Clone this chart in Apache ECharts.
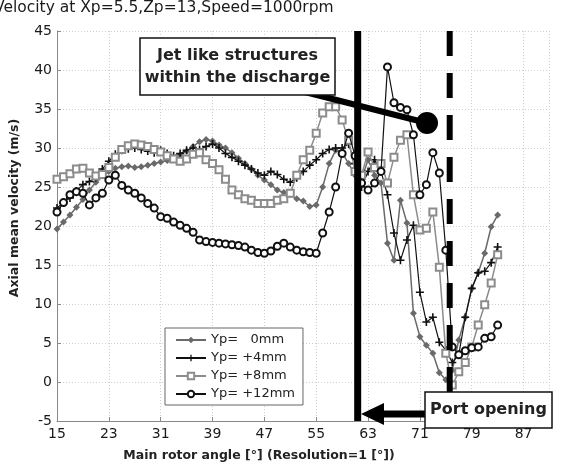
<!DOCTYPE html>
<html><head><meta charset="utf-8">
<script src="https://cdn.jsdelivr.net/npm/echarts/dist/echarts.min.js"></script>
<style>html,body{margin:0;padding:0;background:#fff}#c{width:563px;height:464px}</style>
</head><body><div id="c"></div>
<script>
const titleText = 'Velocity at Xp=5.5,Zp=13,Speed=1000rpm';
const xName = 'Main rotor angle [°] (Resolution=1 [°])';
const yName = 'Axial mean velocity (m/s)';
const seriesNames = ['Yp=   0mm', 'Yp= +4mm', 'Yp= +8mm', 'Yp= +12mm'];
const angles = [15,16,17,18,19,20,21,22,23,24,25,26,27,28,29,30,31,32,33,34,35,36,37,38,39,40,41,42,43,44,45,46,47,48,49,50,51,52,53,54,55,56,57,58,59,60,61,62,63,64,65,66,67,68,69,70,71,72,73,74,75,76,77,78,79,80,81,82,83];
const yp0 = [19.6,20.5,21.4,22.4,23.4,24.6,25.6,26.4,27.0,27.4,27.6,27.7,27.5,27.6,27.8,28.0,28.2,28.4,28.7,29.1,29.6,30.2,30.8,31.1,30.9,30.4,30.0,29.4,28.7,28.0,27.3,26.5,25.9,25.3,24.6,24.3,24.0,23.5,23.2,22.5,22.7,25.0,28.0,29.7,29.4,28.0,26.5,26.0,28.5,26.5,25.5,17.8,15.6,23.3,20.4,8.8,5.8,4.7,3.7,1.2,0.3,1.5,5.4,8.3,12.0,14.0,16.5,19.9,21.4];
const yp4 = [22.3,23.0,23.6,24.5,25.3,25.7,26.2,27.3,28.3,29.2,29.7,29.9,30.0,29.8,29.6,29.4,29.7,29.3,29.0,29.3,29.7,30.0,29.8,30.2,30.5,30.0,29.3,28.8,28.3,27.8,27.3,26.8,26.5,27.0,26.6,26.0,25.6,26.2,27.0,27.8,28.5,29.3,29.8,30.0,30.0,30.5,28.0,25.0,27.0,28.5,27.0,24.0,19.1,15.6,18.2,20.1,11.5,7.7,8.3,5.1,4.1,2.5,3.5,8.3,12.0,14.0,14.2,15.3,17.3];
const yp8 = [26.0,26.3,26.7,27.3,27.4,26.8,26.4,26.6,27.5,28.8,29.8,30.3,30.5,30.4,30.2,29.8,29.5,29.0,28.6,28.3,28.6,29.2,29.4,28.5,28.0,27.2,26.0,24.6,24.0,23.5,23.3,22.9,22.9,22.9,23.3,23.5,24.2,26.5,28.5,29.7,31.9,34.5,35.3,35.3,33.6,31.0,27.0,26.5,29.5,27.5,28.0,25.5,28.8,31.0,31.7,24.0,19.5,19.7,21.8,14.7,3.7,-0.4,1.3,2.5,4.5,7.3,9.9,12.7,16.3];
const yp12 = [21.8,23.0,24.0,24.4,24.2,22.7,23.6,24.2,25.9,26.5,25.2,24.6,24.2,23.6,22.9,22.3,21.2,21.0,20.5,20.1,19.7,19.2,18.2,18.0,17.9,17.8,17.7,17.6,17.5,17.3,16.9,16.6,16.5,16.8,17.4,17.8,17.3,16.9,16.7,16.6,16.5,19.1,21.8,25.0,29.3,31.9,29.0,25.5,24.6,25.5,27.0,40.4,35.8,35.2,34.9,31.7,24.0,25.3,29.4,26.8,16.9,4.5,3.5,4.0,4.4,4.5,5.6,5.8,7.3];
const portLineX = 61.4;
const dashLineX = 75.6;
const xTicks = {min: 15, max: 91, interval: 8};
const yTicks = {min: -5, max: 45, interval: 5};

const pairs = arr => angles.map((a, i) => [a, arr[i]]);
const plus = 'path://M4,0L6,0L6,4L10,4L10,6L6,6L6,10L4,10L4,6L0,6L0,4L4,4Z';
const FONT = 'DejaVu Sans';

const chart = echarts.init(document.getElementById('c'), null, {renderer: 'canvas'});
const axisCommon = {
  axisLine: {show: true, onZero: false, lineStyle: {color: '#888', width: 1}},
  axisTick: {show: true, inside: true, length: 4, lineStyle: {color: '#888'}},
  splitLine: {show: true, lineStyle: {color: '#cfcfcf', type: [1, 2], width: 1}}
};
chart.setOption({
  animation: false,
  backgroundColor: '#fff',
  grid: {left: 57, right: 13.5, top: 31, bottom: 43, containLabel: false},
  xAxis: Object.assign({type: 'value', min: xTicks.min, max: xTicks.max, interval: xTicks.interval}, axisCommon,
    {axisLabel: {fontFamily: FONT, fontSize: 14, color: '#1a1a1a', margin: 6, showMaxLabel: false}}),
  yAxis: Object.assign({type: 'value', min: yTicks.min, max: yTicks.max, interval: yTicks.interval}, axisCommon,
    {axisLabel: {fontFamily: FONT, fontSize: 14, color: '#1a1a1a', margin: 5}}),
  legend: {
    data: seriesNames, orient: 'vertical', left: 165, top: 328,
    padding: [5, 8, 4, 10], itemGap: 4, itemWidth: 30, itemHeight: 8,
    borderColor: '#666', borderWidth: 1, backgroundColor: '#fff',
    textStyle: {fontFamily: FONT, fontSize: 13, color: '#222', lineHeight: 14}
  },
  series: [
    {name: seriesNames[0], type: 'line', data: pairs(yp0), showAllSymbol: true, symbol: 'diamond', symbolSize: 7,
      itemStyle: {color: '#6a6a6a'}, lineStyle: {color: '#6a6a6a', width: 1.5}, z: 2},
    {name: seriesNames[1], type: 'line', data: pairs(yp4), showAllSymbol: true, symbol: plus, symbolSize: 8,
      itemStyle: {color: '#111'}, lineStyle: {color: '#111', width: 1.2}, z: 3},
    {name: seriesNames[2], type: 'line', data: pairs(yp8), showAllSymbol: true, symbol: 'emptyRect', symbolSize: 7,
      itemStyle: {color: '#8c8c8c', borderWidth: 1.5}, lineStyle: {color: '#8c8c8c', width: 1.5}, z: 4},
    {name: seriesNames[3], type: 'line', data: pairs(yp12), showAllSymbol: true, symbol: 'emptyCircle', symbolSize: 7,
      itemStyle: {color: '#111', borderWidth: 1.5}, lineStyle: {color: '#111', width: 1.2}, z: 5},
    {name: 'port', type: 'line', data: [[portLineX, yTicks.max], [portLineX, yTicks.min]], symbol: 'none',
      lineStyle: {color: '#000', width: 7}, z: 8, silent: true},
    {name: 'dash', type: 'line', data: [[dashLineX, yTicks.max], [dashLineX, yTicks.min]], symbol: 'none',
      lineStyle: {color: '#000', width: 6, type: [25, 17]}, z: 8, silent: true}
  ],
  graphic: [
    {type: 'text', left: -6, top: 0, z: 100, style: {text: titleText, font: '15.5px "DejaVu Sans"', fill: '#1a1a1a'}},
    {type: 'text', x: 15, y: 208, rotation: Math.PI / 2, z: 100,
      style: {text: yName, font: 'bold 12.5px "DejaVu Sans"', fill: '#222', align: 'center', verticalAlign: 'middle'}},
    {type: 'text', x: 259, y: 456, z: 100,
      style: {text: xName, font: 'bold 12.5px "DejaVu Sans"', fill: '#222', align: 'center', verticalAlign: 'middle'}},
    {type: 'line', z: 100, shape: {x1: 305, y1: 92, x2: 427, y2: 123}, style: {stroke: '#000', lineWidth: 6}},
    {type: 'circle', z: 101, shape: {cx: 427, cy: 123, r: 11}, style: {fill: '#000'}},
    {type: 'rect', z: 102, shape: {x: 140, y: 38, width: 195, height: 57}, style: {fill: '#fff', stroke: '#111', lineWidth: 1.5}},
    {type: 'text', z: 103, x: 237.5, y: 67, style: {text: 'Jet like structures\nwithin the discharge', font: 'bold 16px "DejaVu Sans"', lineHeight: 22, fill: '#222', align: 'center', verticalAlign: 'middle'}},
    {type: 'polygon', z: 100, shape: {points: [[361, 414], [384, 403], [384, 410.5], [426, 410.5], [426, 417.5], [384, 417.5], [384, 425]]}, style: {fill: '#000'}},
    {type: 'rect', z: 102, shape: {x: 425, y: 392, width: 127, height: 36}, style: {fill: '#fff', stroke: '#111', lineWidth: 1.5}},
    {type: 'text', z: 103, x: 488.5, y: 410, style: {text: 'Port opening', font: 'bold 16px "DejaVu Sans"', fill: '#222', align: 'center', verticalAlign: 'middle'}}
  ]
});
</script></body></html>
